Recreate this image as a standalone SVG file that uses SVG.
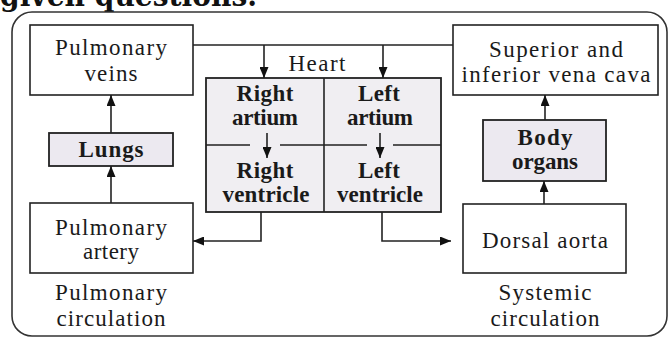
<svg xmlns="http://www.w3.org/2000/svg" width="669" height="338" viewBox="0 0 669 338">
<defs>
<marker id="ah" markerUnits="userSpaceOnUse" markerWidth="11" markerHeight="9" refX="11" refY="4.5" orient="auto">
<path d="M0,0 L11,4.5 L0,9 z" fill="#111"/>
</marker>
<style>
.box{fill:#fff;stroke:#222;stroke-width:1.6}
.shade{fill:#ece9f0;stroke:#222;stroke-width:1.8}
.t{font-family:'Liberation Serif','Times New Roman',serif;font-size:23px;fill:#1a1a1a;text-anchor:middle}
.b{font-family:'Liberation Serif','Times New Roman',serif;font-size:23px;font-weight:bold;fill:#1a1a1a;text-anchor:middle}
.c{fill:none;stroke:#222;stroke-width:1.6}
</style>
</defs>
<rect width="669" height="338" fill="#fff"/>
<text x="0" y="6" font-family="DejaVu Serif, serif" font-size="30" font-weight="900" fill="#111" textLength="257" lengthAdjust="spacingAndGlyphs">given questions.</text>
<rect x="12" y="12" width="655" height="324" rx="20" ry="20" fill="none" stroke="#333" stroke-width="1.6"/>

<g id="pulmonary-veins">
<rect class="box" x="30" y="25" width="163" height="70"/>
<text class="t" x="111" y="55" textLength="112">Pulmonary</text>
<text class="t" x="111" y="81" textLength="53">veins</text>
</g>

<g id="lungs">
<rect class="shade" x="49" y="133" width="124" height="33"/>
<text class="b" x="111" y="157" textLength="65">Lungs</text>
</g>

<g id="pulmonary-artery">
<rect class="box" x="30" y="203" width="163" height="70"/>
<text class="t" x="111" y="235" textLength="112">Pulmonary</text>
<text class="t" x="111" y="259" textLength="56">artery</text>
</g>

<g id="pulmonary-circulation">
<text class="t" x="111" y="300" textLength="112">Pulmonary</text>
<text class="t" x="111" y="326" textLength="109">circulation</text>
</g>

<g id="heart">
<text class="t" x="317" y="71" textLength="57">Heart</text>
<rect x="206" y="78" width="235" height="134" fill="#f0eef2" stroke="#222" stroke-width="1.8"/>
<line x1="324" y1="78" x2="324" y2="212" stroke="#222" stroke-width="1.6"/>
<path d="M206,145 H250 M280,145 H367 M393,145 H441" stroke="#222" stroke-width="1.6" fill="none"/>
</g>

<g id="right-atrium">
<text class="b" x="265" y="101" textLength="57">Right</text>
<text class="b" x="265" y="125" textLength="66">artium</text>
</g>
<g id="right-ventricle">
<text class="b" x="265" y="178" textLength="57">Right</text>
<text class="b" x="266" y="202" textLength="87">ventricle</text>
</g>
<g id="left-atrium">
<text class="b" x="379" y="101" textLength="42">Left</text>
<text class="b" x="380" y="125" textLength="66">artium</text>
</g>
<g id="left-ventricle">
<text class="b" x="379" y="178" textLength="42">Left</text>
<text class="b" x="380" y="202" textLength="86">ventricle</text>
</g>

<g id="vena-cava">
<rect class="box" x="453" y="25" width="205" height="70"/>
<text class="t" x="556" y="57" textLength="134">Superior and</text>
<text class="t" x="556" y="82" textLength="189">inferior vena cava</text>
</g>

<g id="body-organs">
<rect class="shade" x="483" y="120" width="123" height="61"/>
<text class="b" x="545" y="145" textLength="55">Body</text>
<text class="b" x="545" y="169" textLength="66">organs</text>
</g>

<g id="dorsal-aorta">
<rect class="box" x="463" y="204" width="163" height="69"/>
<text class="t" x="545" y="248" textLength="126">Dorsal aorta</text>
</g>

<g id="systemic-circulation">
<text class="t" x="545" y="300" textLength="93">Systemic</text>
<text class="t" x="545" y="326" textLength="109">circulation</text>
</g>

<g id="connectors">
<path class="c" d="M193,45 H453"/>
<path class="c" d="M264,45 V78" marker-end="url(#ah)"/>
<path class="c" d="M383,45 V78" marker-end="url(#ah)"/>
<path class="c" d="M111,133 V95" marker-end="url(#ah)"/>
<path class="c" d="M111,203 V166" marker-end="url(#ah)"/>
<path class="c" d="M267,133 V158" marker-end="url(#ah)"/>
<path class="c" d="M380,133 V158" marker-end="url(#ah)"/>
<path class="c" d="M261,212 V241 H193" marker-end="url(#ah)"/>
<path class="c" d="M382,212 V241 H451" marker-end="url(#ah)"/>
<path class="c" d="M544,204 V181" marker-end="url(#ah)"/>
<path class="c" d="M545,120 V95" marker-end="url(#ah)"/>
</g>
</svg>
